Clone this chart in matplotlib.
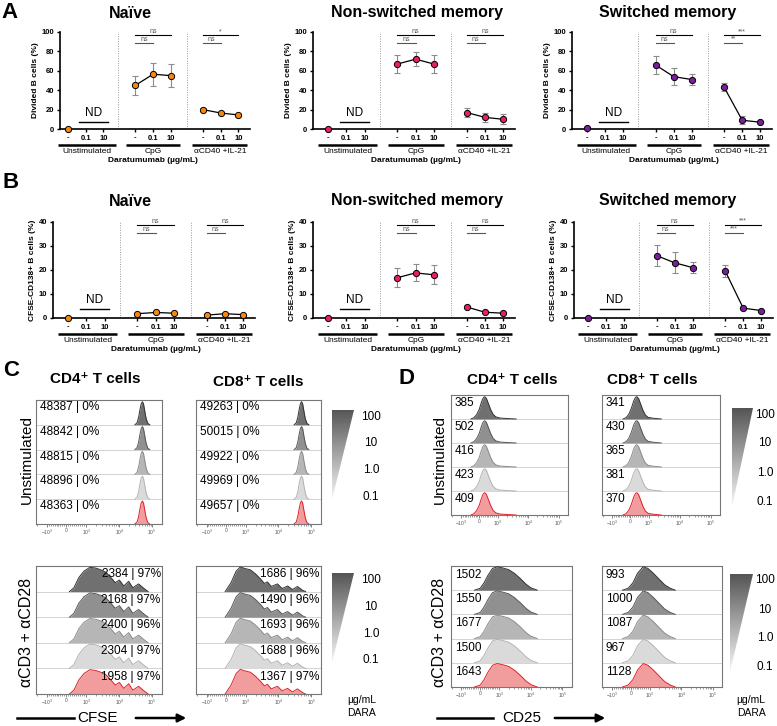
import numpy as np
import matplotlib
matplotlib.use('Agg')
import matplotlib.pyplot as plt
from matplotlib.colors import LinearSegmentedColormap
from matplotlib.patches import Polygon
from matplotlib.transforms import blended_transform_factory

plt.rcParams['font.family'] = ['Liberation Sans', 'DejaVu Sans']
plt.rcParams['mathtext.default'] = 'regular'

W, H = 777, 726

#==========================================================
# data for A / B (order: unstim -, CpG -/0.1/10, aCD40+IL-21 -/0.1/10)
groups = ['Unstimulated', 'CpG', 'αCD40 +IL-21']
doses = ['-', '0.1', '10']
subsets = ['Naïve', 'Non-switched memory', 'Switched memory']
subset_colors = ['#f5890f', '#ec1c6c', '#7b1d9c']

div_naive = [0.0, 45, 56.5, 55, 20, 16.5, 14.5]
div_naive_sd = [0, 10, 12, 12, 1.5, 1.2, 1.2]
div_nsw = [0.5, 67, 72, 67, 17, 12, 10]
div_nsw_sd = [0, 9, 7, 9, 5, 5, 5]
div_sw = [1.0, 66, 54, 51, 43, 9, 7]
div_sw_sd = [0, 9, 9, 6, 4, 4, 1]

pc_naive = [0.0, 1.8, 2.3, 2.0, 1.2, 1.8, 1.4]
pc_naive_sd = [0, 0.3, 0.3, 0.3, 0.3, 0.3, 0.3]
pc_nsw = [0.0, 16.8, 18.8, 18.0, 4.6, 2.4, 2.0]
pc_nsw_sd = [0, 4, 3.5, 4, 0.5, 0.4, 0.4]
pc_sw = [0.0, 26, 23, 21, 19.6, 4.1, 3.1]
pc_sw_sd = [0, 4.3, 4.3, 2.3, 2.4, 0.4, 0.3]

# significance: CpG short, CpG long, aCD40 short, aCD40 long
sig_A = [['ns', 'ns', 'ns', '*'], ['ns', 'ns', 'ns', 'ns'], ['ns', 'ns', '**', '***']]
sig_B = [['ns', 'ns', 'ns', 'ns'], ['ns', 'ns', 'ns', 'ns'], ['ns', 'ns', '***', '***']]

group_x = [[0, 1, 2], [3.8, 4.8, 5.8], [7.6, 8.6, 9.6]]

#==========================================================
# data for C / D histograms (fluorescence, relative row height)
rows_dara = ['100', '10', '1.0', '0.1']
fills = ['#707070', '#909090', '#b6b6b6', '#dadada', '#f29d9d']
edges = ['#333333', '#555555', '#8a8a8a', '#b2b2b2', '#e0202a']

cfse_unstim_x = [3.0e4, 3.5e4, 3.9e4, 4.3e4, 4.7e4, 5.1e4, 5.5e4, 6.0e4, 6.6e4, 7.4e4, 8.5e4]
cfse_unstim_h = [0, 0.08, 0.3, 0.62, 0.86, 0.93, 0.84, 0.55, 0.25, 0.06, 0]

cfse_cd4_x = [150, 380, 630, 890, 1300, 1950, 2800, 4000, 5600, 7600, 10200, 13800, 19500, 26000, 39000, 57000, 76000]
cfse_cd4_h = [0, 0.15, 0.55, 0.8, 0.95, 0.92, 0.85, 0.75, 0.55, 0.35, 0.45, 0.22, 0.4, 0.15, 0.3, 0.12, 0]
cfse_cd8_x = [-50, 250, 510, 720, 970, 1380, 1950, 2800, 3700, 4600, 6000, 9300, 13000, 19000, 27000, 38000, 55000, 68000]
cfse_cd8_h = [0, 0.35, 0.8, 0.96, 0.9, 0.85, 0.7, 0.5, 0.32, 0.38, 0.2, 0.3, 0.12, 0.22, 0.08, 0.2, 0.05, 0]

cd25_cd4_unstim_x = [-450, -300, -150, 0, 120, 220, 300, 390, 500, 620, 750, 900, 1200, 2000, 4000]
cd25_cd4_unstim_h = [0, 0.05, 0.17, 0.4, 0.7, 0.88, 0.93, 0.86, 0.64, 0.4, 0.2, 0.09, 0.04, 0.02, 0]
cd25_cd8_unstim_x = [-400, -250, -100, 50, 170, 270, 350, 440, 550, 670, 800, 950, 1400, 2500]
cd25_cd8_unstim_h = [0, 0.05, 0.18, 0.45, 0.74, 0.9, 0.93, 0.85, 0.62, 0.37, 0.17, 0.07, 0.03, 0]
cd25_cd4_stim_x = [-300, 0, 200, 400, 650, 900, 1300, 2000, 3000, 4500, 7000, 10000, 16000]
cd25_cd4_stim_h = [0, 0.08, 0.3, 0.6, 0.9, 0.97, 0.92, 0.85, 0.7, 0.5, 0.25, 0.1, 0]
cd25_cd8_stim_x = [-450, -150, 100, 350, 650, 900, 1300, 2000, 3000, 4500, 6500]
cd25_cd8_stim_h = [0, 0.08, 0.3, 0.7, 0.97, 0.9, 0.7, 0.45, 0.22, 0.08, 0]

c_cd4_unstim = ['48387 | 0%', '48842 | 0%', '48815 | 0%', '48896 | 0%', '48363 | 0%']
c_cd8_unstim = ['49263 | 0%', '50015 | 0%', '49922 | 0%', '49969 | 0%', '49657 | 0%']
c_cd4_stim = ['2384 | 97%', '2168 | 97%', '2400 | 96%', '2304 | 97%', '1958 | 97%']
c_cd8_stim = ['1686 | 96%', '1490 | 96%', '1693 | 96%', '1688 | 96%', '1367 | 97%']
d_cd4_unstim = ['385', '502', '416', '423', '409']
d_cd8_unstim = ['341', '430', '365', '381', '370']
d_cd4_stim = ['1502', '1550', '1677', '1500', '1643']
d_cd8_stim = ['993', '1000', '1087', '967', '1128']

#==========================================================
fig = plt.figure(figsize=(W / 100, H / 100), dpi=100)
ov = fig.add_axes([0, 0, 1, 1])
ov.set_xlim(0, W)
ov.set_ylim(H, 0)
ov.axis('off')


def rect(x0, y0, x1, y1):
    return [x0 / W, 1 - y1 / H, (x1 - x0) / W, (y1 - y0) / H]


def line_panel(r, xlim_left, mean, sd, color, ymax, ystep, ylabel, sig):
    ax = fig.add_axes(r)
    ax.set_xlim(xlim_left, 10.25)
    ax.set_ylim(0, ymax)
    for s in ('top', 'right'):
        ax.spines[s].set_visible(False)
    for s in ('left', 'bottom'):
        ax.spines[s].set_linewidth(1.2)
    for sep in (2.83, 6.72):
        ax.axvline(sep, color='#9a9a9a', ls=(0, (1, 1.5)), lw=0.7)

    # unstimulated point
    ax.plot([group_x[0][0]], [mean[0]], 'o', ms=4.5, mfc=color, mec='k', mew=0.7,
            zorder=5, clip_on=False)
    for g in (1, 2):
        xs = group_x[g]
        m = mean[3 * g - 2:3 * g + 1]
        e = sd[3 * g - 2:3 * g + 1]
        ax.errorbar(xs, m, yerr=e, fmt='none', ecolor='#8c8c8c', elinewidth=0.8,
                    capsize=2, capthick=0.8, zorder=2)
        ax.plot(xs, m, '-', color='k', lw=0.9, zorder=3)
        ax.plot(xs, m, 'o', ms=4.5, mfc=color, mec='k', mew=0.7, zorder=5, clip_on=False)
        # significance bars
        short_lab, long_lab = sig[2 * g - 2], sig[2 * g - 1]
        y1, y2 = 0.89 * ymax, 0.97 * ymax
        ax.plot([xs[0], xs[1]], [y1, y1], color='#555555', lw=0.8, clip_on=False)
        ax.plot([xs[0], xs[2]], [y2, y2], color='k', lw=0.8, clip_on=False)
        ax.text((xs[0] + xs[1]) / 2, y1, short_lab, ha='center', va='bottom',
                fontsize=5, color='#555555')
        ax.text((xs[0] + xs[2]) / 2, y2, long_lab, ha='center', va='bottom',
                fontsize=5, color='#555555')

    # ND
    nd_y = 0.07 * ymax if ymax > 50 else 0.094 * ymax
    ax.plot([0.65, 2.25], [nd_y, nd_y], color='k', lw=1)
    ax.text(1.45, nd_y + 0.03 * ymax, 'ND', ha='center', va='bottom', fontsize=8.5)

    ax.set_yticks(np.arange(0, ymax + 1, ystep))
    ax.set_xticks([x for g in group_x for x in g])
    ax.set_xticklabels(doses * 3)
    ax.tick_params(labelsize=5.5, length=2.5, width=1, pad=1.5)
    for t in ax.get_xticklabels() + ax.get_yticklabels():
        t.set_fontweight('bold')
    ax.set_ylabel(ylabel, fontsize=6, fontweight='bold', labelpad=2)

    tr = blended_transform_factory(ax.transData, ax.transAxes)
    bars = [(-0.55, 2.7), (3.3, 6.33), (7.0, 10.1)]
    for (b0, b1), name in zip(bars, groups):
        ax.plot([b0, b1], [-0.165, -0.165], color='k', lw=1.8, transform=tr, clip_on=False,
                solid_capstyle='butt')
        ax.text((b0 + b1) / 2, -0.195, name, ha='center', va='top', fontsize=6, transform=tr)
    ax.text(4.8, -0.29, 'Daratumumab (µg/mL)', ha='center', va='top', fontsize=6,
            fontweight='bold', transform=tr)
    return ax


A_means = [(div_naive, div_naive_sd), (div_nsw, div_nsw_sd), (div_sw, div_sw_sd)]
B_means = [(pc_naive, pc_naive_sd), (pc_nsw, pc_nsw_sd), (pc_sw, pc_sw_sd)]
A_x = [(60, 250, -0.44), (313, 515, -0.83), (572, 772, -0.83)]
B_x = [(53, 255, -0.83), (313, 515, -0.83), (574, 773, -0.78)]
title_x = [130, 417, 668]

for i in range(3):
    x0, x1, xl = A_x[i]
    line_panel(rect(x0, 32, x1, 129), xl, A_means[i][0], A_means[i][1], subset_colors[i],
               100, 20, 'Divided B cells (%)', sig_A[i])
    x0, x1, xl = B_x[i]
    line_panel(rect(x0, 222, x1, 318), xl, B_means[i][0], B_means[i][1], subset_colors[i],
               40, 10, 'CFSE-CD138+ B cells (%)', sig_B[i])
    ov.text(title_x[i], 13, subsets[i], ha='center', va='center', fontsize=11.5, fontweight='bold')
    ov.text(title_x[i], 201, subsets[i], ha='center', va='center', fontsize=11.5, fontweight='bold')

#==========================================================
minor_ticks = ([-2000] + [v for v in range(-900, 1000, 100) if v != 0]
               + [k * 10 ** e for e in (3, 4) for k in range(2, 10)])


def hist_box(r, xs, hs, labels, side, ty):
    ax = fig.add_axes(r)
    ax.set_xscale('symlog', linthresh=1000, linscale=0.54)
    ax.set_xlim(-2100, 2e5)
    ax.set_ylim(0, 5)
    for b in range(1, 5):
        ax.axhline(b, color='#cccccc', lw=0.6, zorder=1)
    tr = ax.get_yaxis_transform()
    for i in range(5):
        base = 4 - i
        top = base + np.array(hs)
        ax.fill_between(xs, base, top, color=fills[i], lw=0, zorder=2)
        ax.plot(xs, top, color=edges[i], lw=0.7, zorder=3)
        if side == 'left':
            ax.text(0.03, base + ty, labels[i], transform=tr, ha='left', va='center',
                    fontsize=8.5, zorder=4)
        else:
            ax.text(0.99, base + ty, labels[i], transform=tr, ha='right', va='center',
                    fontsize=8.5, zorder=4)
    for s in ax.spines.values():
        s.set_color('#777777')
        s.set_linewidth(0.8)
    ax.set_yticks([])
    ax.set_xticks([-1000, 0, 1000, 1e4, 1e5])
    ax.set_xticklabels(['$-10^{3}$', '0', '$10^{3}$', '$10^{4}$', '$10^{5}$'])
    ax.set_xticks(minor_ticks, minor=True)
    ax.tick_params(axis='x', which='major', length=2, width=0.5, color='#555555',
                   labelsize=3.5, labelcolor='#555555', pad=1)
    ax.tick_params(axis='x', which='minor', length=1.2, width=0.4, color='#555555')
    return ax


hist_box(rect(36, 400, 162, 524), cfse_unstim_x, cfse_unstim_h, c_cd4_unstim, 'left', 0.72)
hist_box(rect(196, 400, 321, 524), cfse_unstim_x, cfse_unstim_h, c_cd8_unstim, 'left', 0.72)
hist_box(rect(36, 566, 162, 694), cfse_cd4_x, cfse_cd4_h, c_cd4_stim, 'right', 0.68)
hist_box(rect(196, 566, 321, 694), cfse_cd8_x, cfse_cd8_h, c_cd8_stim, 'right', 0.68)
hist_box(rect(451, 395, 568, 515), cd25_cd4_unstim_x, cd25_cd4_unstim_h, d_cd4_unstim, 'left', 0.66)
hist_box(rect(602, 395, 720, 515), cd25_cd8_unstim_x, cd25_cd8_unstim_h, d_cd8_unstim, 'left', 0.66)
hist_box(rect(451, 566, 572, 687), cd25_cd4_stim_x, cd25_cd4_stim_h, d_cd4_stim, 'left', 0.63)
hist_box(rect(602, 566, 722, 687), cd25_cd8_stim_x, cd25_cd8_stim_h, d_cd8_stim, 'left', 0.63)

#==========================================================
wedge_cmap = LinearSegmentedColormap.from_list('wedge', ['#f7f7f7', '#555555'])


def wedge(x0, y0, x1, y1, label_x, label_ys):
    ax = fig.add_axes(rect(x0, y0, x1, y1))
    ax.set_xlim(0, 1)
    ax.set_ylim(0, 1)
    ax.axis('off')
    grad = np.linspace(0, 1, 200).reshape(-1, 1)
    im = ax.imshow(grad, extent=(0, 1, 0, 1), origin='lower', cmap=wedge_cmap, aspect='auto')
    tri = Polygon([(0, 0), (0, 1), (1, 1)], transform=ax.transData)
    im.set_clip_path(tri)
    for lab, ly in zip(rows_dara, label_ys):
        ov.text(label_x, ly, lab, ha='center', va='center', fontsize=8.5)


wedge(332, 410, 354, 500, 371, [417, 443, 470, 497])
wedge(332, 573, 354, 663, 371, [580, 607, 634, 660])
wedge(732, 408, 753, 507, 765, [415, 443, 473, 502])
wedge(730, 574, 753, 672, 765, [580, 610, 638, 667])

for xm in (362, 751):
    ov.text(xm, 700, 'µg/mL', ha='center', va='center', fontsize=7.5)
    ov.text(xm, 713, 'DARA', ha='center', va='center', fontsize=7.5)

# row group labels
for xr in (27, 440):
    ov.text(xr, 460, 'Unstimulated', rotation=90, ha='center', va='center', fontsize=11)
    ov.text(xr, 632, 'αCD3 + αCD28', rotation=90, ha='center', va='center', fontsize=11.5)

# population titles
ov.text(95, 379, 'CD4⁺ T cells', ha='center', va='center', fontsize=11, fontweight='bold')
ov.text(258, 382, 'CD8⁺ T cells', ha='center', va='center', fontsize=11, fontweight='bold')
ov.text(512, 380, 'CD4⁺ T cells', ha='center', va='center', fontsize=11, fontweight='bold')
ov.text(652, 380, 'CD8⁺ T cells', ha='center', va='center', fontsize=11, fontweight='bold')

# axis arrows
for (l0, l1, tx, a0, a1, name) in [(17, 74, 98, 133, 189, 'CFSE'), (437, 493, 522, 552, 608, 'CD25')]:
    ov.plot([l0, l1], [718, 718], color='k', lw=1.8)
    ov.annotate('', xy=(a1, 718), xytext=(a0, 718),
                arrowprops=dict(arrowstyle='-|>', color='k', lw=1.8, mutation_scale=12))
    ov.text(tx, 718, name, ha='center', va='center', fontsize=11)

# panel letters
for lab, px, py in [('A', 9, 12), ('B', 11, 183), ('C', 11, 370), ('D', 406, 378)]:
    ov.text(px, py, lab, ha='center', va='center', fontsize=16, fontweight='bold')

fig.savefig('out.png', dpi=100)
